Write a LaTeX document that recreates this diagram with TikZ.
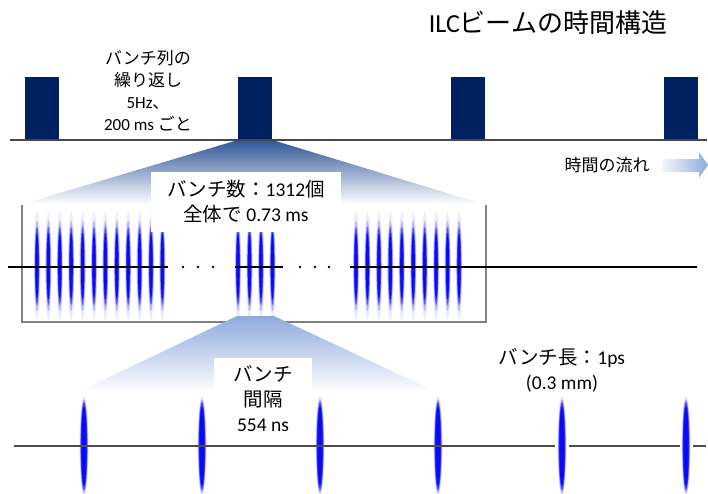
\documentclass[tikz,border=0pt]{standalone}
\usepackage{fontspec}
\setmainfont{Carlito}
\newfontfamily\jp{Noto Sans CJK JP}
\usetikzlibrary{positioning,calc}
\definecolor{pulsenavy}{RGB}{0,32,96}
\definecolor{zoomdark}{RGB}{47,85,151}
\definecolor{zoomlight}{RGB}{143,170,220}
\definecolor{bunchblue}{RGB}{10,10,245}

\begin{document}
\begin{tikzpicture}[x=1pt, y=-1pt,
    pulse/.style={fill=pulsenavy, minimum width=34pt, minimum height=63pt, inner sep=0pt, anchor=south west},
    axis/.style={draw=black!72, line width=2pt},
    midaxis/.style={draw=black, line width=1.3pt},
    jtext/.style={font=\fontsize{17}{22}\selectfont, align=center, inner sep=0pt},
    bigtext/.style={font=\fontsize{19.5}{25}\selectfont, align=center},
    % soft bunch: faint halo around a dense core
    shortbunch/.pic={
        \fill[bunchblue!8] (0,0) ellipse [x radius=3.3pt, y radius=54pt];
        \fill[bunchblue!30] (0,0) ellipse [x radius=2.7pt, y radius=45pt];
        \fill[bunchblue!70] (0,0) ellipse [x radius=2.1pt, y radius=39pt];
        \fill[bunchblue] (0,0) ellipse [x radius=1.6pt, y radius=33pt];
    },
    longbunch/.pic={
        \fill[bunchblue!8] (0,0) ellipse [x radius=4.6pt, y radius=50pt];
        \fill[bunchblue!35] (0,0) ellipse [x radius=3.9pt, y radius=47pt];
        \fill[bunchblue!75] (0,0) ellipse [x radius=3.3pt, y radius=44pt];
        \fill[bunchblue] (0,0) ellipse [x radius=2.7pt, y radius=40pt];
    }]
    \useasboundingbox (0,0) rectangle (708,493);

    % Title
    \node[font=\fontsize{26}{30}\selectfont] (title) at (548,23) {ILC{\jp ビームの時間構造}};

    % Bunch trains, 5 Hz
    \foreach \i in {1,...,4}
        \node[pulse] (p\i) at ({25+213*(\i-1)},140) {};

    % Zoom into one train
    \coordinate (boxnw) at (22,205);
    \coordinate (boxse) at (486,322);
    \shade[top color=zoomdark, bottom color=white]
        (p2.south west) -- (p2.south east) -- (483,204) -- (23,204) -- cycle;
    \draw[axis] (10,140) -- (707,140);

    \node[jtext] (repeat) at (148,91) {{\jp バンチ列の}\\{\jp 繰り返し}\\5Hz{\jp 、}\\200 ms {\jp ごと}};

    % Flow of time
    \node[jtext] (flow) at (607,165) {\jp 時間の流れ};
    \shade[left color=zoomlight!10, right color=zoomlight]
        (662,159) -- (699,159) -- (699,152) -- (708,165) -- (699,178) -- (699,172) -- (662,172) -- cycle;

    % One bunch train
    \draw[black!50, line width=1.2pt] (boxnw) -- (boxnw |- boxse) -- (boxse) -- (boxse |- boxnw);
    \foreach \k in {0,...,11}
        \pic at ({37+11.4*\k},266) {shortbunch};
    \foreach \x in {238,249.5,261,272.5}
        \pic at (\x,266) {shortbunch};
    \foreach \k in {0,...,9}
        \pic at ({356+11.45*\k},266) {shortbunch};
    \draw[midaxis] (8,267) -- (168,267);
    \draw[midaxis] (235,267) -- (283,267);
    \draw[midaxis] (350,267) -- (697,267);
    \foreach \x in {183,198,213,300,315,329}
        \fill (\x,267) circle (1.3pt);

    \node[bigtext, fill=white, minimum width=190pt, minimum height=60pt] (count) at (246,202)
        {{\jp バンチ数：}1312{\jp 個}\\{\jp 全体で} 0.73 ms};

    % Zoom into a few bunches
    \shade[top color=zoomlight, middle color=zoomlight!75, bottom color=white]
        (237,316) -- (274,316) -- (437,392) -- (78,392) -- cycle;
    \node[bigtext, fill=white, minimum width=98pt, minimum height=82pt] (spacing) at (263,399)
        {{\jp バンチ}\\{\jp 間隔}\\554 ns};

    \foreach \x in {84,202,320,438,562,686}
        \pic at (\x,446) {longbunch};
    \draw[axis, draw=black!70] (14,446) -- (555,446);
    \draw[axis, draw=black!70] (569,446) -- (680,446);
    \draw[axis, draw=black!70] (693,446) -- (706,446);

    \node[bigtext] (length) at (562,370) {{\jp バンチ長：}1ps\\(0.3 mm)};
\end{tikzpicture}
\end{document}
